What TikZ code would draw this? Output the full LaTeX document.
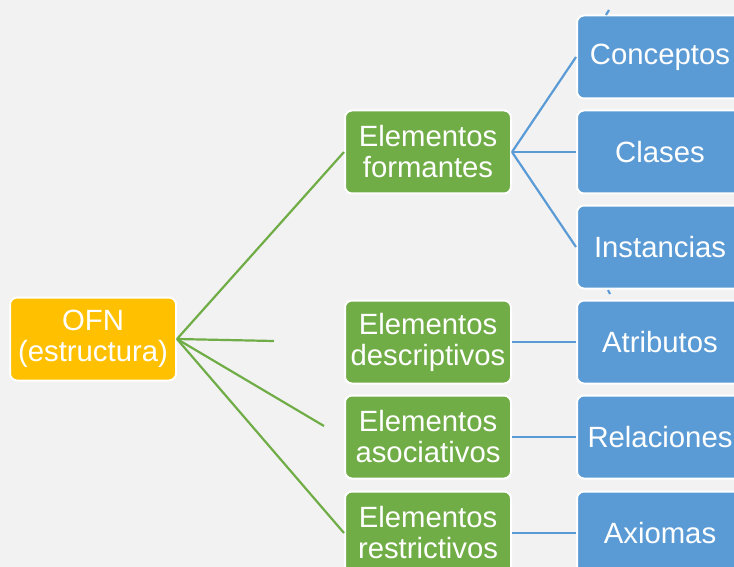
\documentclass[tikz,border=0pt]{standalone}
\usepackage{fontspec}
\setmainfont{Liberation Sans}
\usetikzlibrary{positioning}
\definecolor{bgcol}{HTML}{F2F2F2}
\definecolor{rootcol}{HTML}{FFC000}
\definecolor{groupcol}{HTML}{70AD47}
\definecolor{leafcol}{HTML}{5B9BD5}
\tikzset{
  onode/.style={rectangle, rounded corners=7pt, draw=white, line width=2pt, fill=rootcol,  minimum width=166pt, minimum height=83pt, text=white, align=center, font=\fontsize{29.3}{31}\selectfont, inner sep=2pt},
  gnode/.style={onode, fill=groupcol},
  lnode/.style={onode, fill=leafcol},
  glink/.style={draw=groupcol, line width=2.2pt},
  llink/.style={draw=leafcol, line width=2.2pt},
}

\begin{document}
\begin{tikzpicture}[x=1pt, y=-1pt]
  \fill[bgcol] (0,0) rectangle (734,567);
  \useasboundingbox (0,0) rectangle (734,567);
  \clip (0,0) rectangle (734,567);
  % loose ends left by the layout
  \coordinate (dEnd) at (274,341);
  \coordinate (aEnd) at (324,426);
  \coordinate (t1a) at (606,15);
  \coordinate (t1b) at (609,10);
  \coordinate (t2a) at (608,290);
  \coordinate (t2b) at (610,294);
  \node[onode] (ofn) at (93,339)  {OFN\\(estructura)};
  \node[gnode] (form) at (428,152) {Elementos\\formantes};
  \node[gnode] (desc) at (428,342) {Elementos\\descriptivos};
  \node[gnode] (asoc) at (428,437) {Elementos\\asociativos};
  \node[gnode] (rest) at (428,533) {Elementos\\restrictivos};
  \node[lnode] (conc) at (660,57)  {Conceptos};
  \node[lnode] (clas) at (660,152) {Clases};
  \node[lnode] (inst) at (660,247) {Instancias};
  \node[lnode] (atri) at (660,342) {Atributos};
  \node[lnode] (rela) at (660,437) {Relaciones};
  \node[lnode] (axio) at (660,533) {Axiomas};
  % connectors
  \draw[glink] (ofn.east) -- (form.west);
  \draw[glink] (ofn.east) -- (dEnd);
  \draw[glink] (ofn.east) -- (aEnd);
  \draw[glink] (ofn.east) -- (rest.west);
  \draw[llink] (form.east) -- (conc.west);
  \draw[llink] (form.east) -- (clas.west);
  \draw[llink] (form.east) -- (inst.west);
  \draw[llink] (desc.east) -- (atri.west);
  \draw[llink] (asoc.east) -- (rela.west);
  \draw[llink] (rest.east) -- (axio.west);
  \draw[llink] (t1a) -- (t1b);
  \draw[llink] (t2a) -- (t2b);
\end{tikzpicture}
\end{document}
